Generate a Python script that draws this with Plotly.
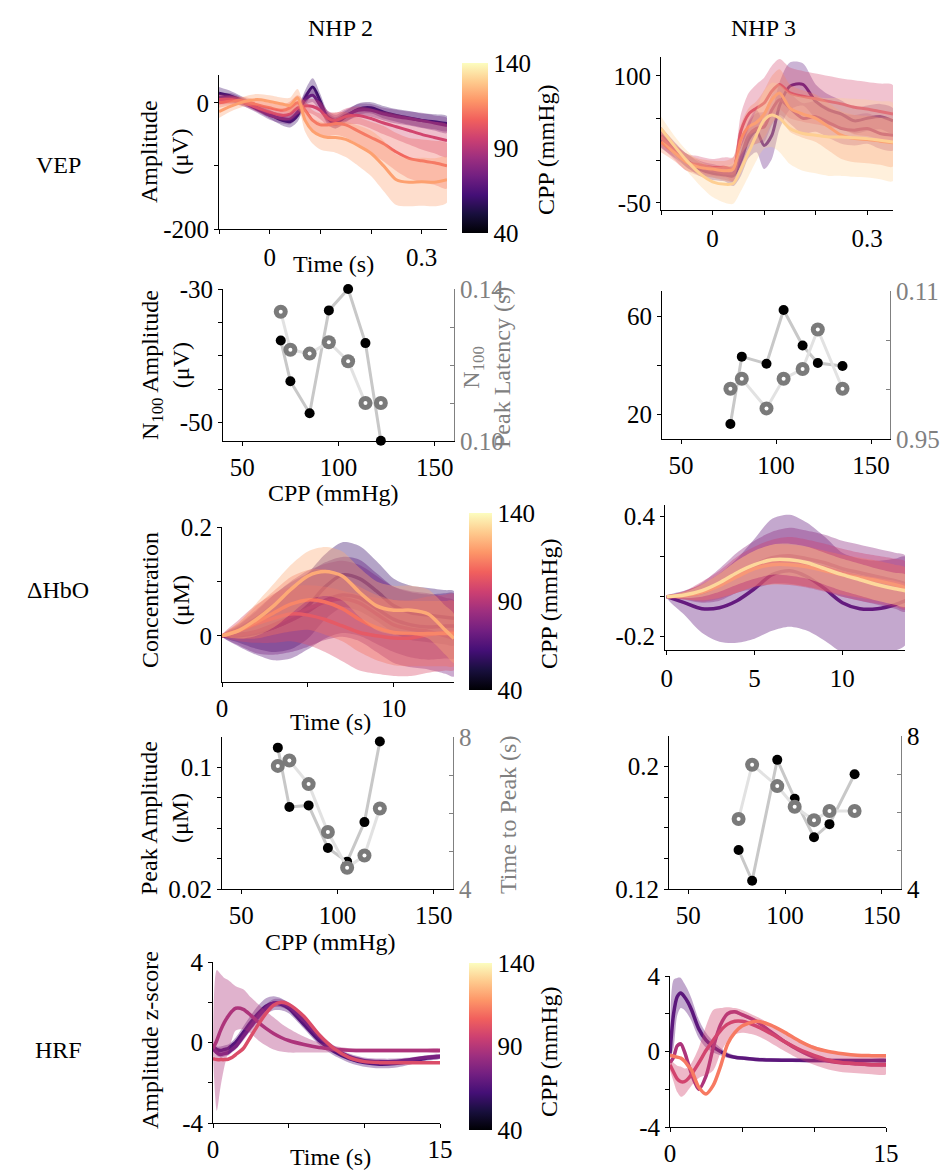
import plotly.graph_objects as go
from plotly.colors import sample_colorscale

W, H = 947, 1172
FONT = "Liberation Serif"
GRAY = "#808080"
TICK = 25
LAB = 24

# ---------------- DATA ----------------
# VEP, NHP 2 (time in s, amplitude in uV)
vep2_t = [-0.1, -0.075, -0.05, -0.025, 0.0, 0.025, 0.04, 0.055, 0.07, 0.085, 0.1, 0.115, 0.13, 0.15, 0.175, 0.2, 0.225, 0.25, 0.275, 0.3, 0.325, 0.35]
vep2_cpp = [60, 71, 97, 108, 120]
vep2_mean = [
    [15, 10, 2, -8, -18, -28, -30, -20, 8, 25, 2, -25, -32, -22, -10, -8, -15, -20, -24, -28, -30, -33],
    [8, 8, 0, -10, -20, -25, -26, -15, 5, 12, -5, -22, -28, -20, -12, -12, -18, -22, -25, -28, -32, -36],
    [5, 5, 0, -8, -15, -20, -18, -8, -5, -6, -12, -25, -28, -22, -20, -25, -32, -38, -44, -50, -55, -60],
    [0, 3, 3, -3, -8, -12, -8, 0, -12, -28, -35, -35, -33, -35, -45, -55, -65, -78, -88, -92, -95, -100],
    [-14, -5, 2, 5, 2, -2, -4, 8, -28, -45, -52, -55, -55, -58, -68, -80, -100, -122, -126, -125, -126, -122],
]
vep2_sem = [
    [10, 8, 6, 6, 7, 8, 9, 10, 12, 14, 12, 10, 9, 9, 9, 9, 10, 10, 11, 11, 12, 12],
    [8, 7, 6, 6, 7, 8, 8, 9, 10, 11, 10, 9, 9, 9, 10, 10, 10, 11, 11, 12, 12, 12],
    [8, 7, 6, 6, 7, 8, 9, 10, 10, 12, 14, 12, 12, 13, 14, 16, 18, 20, 22, 24, 25, 26],
    [8, 7, 6, 7, 8, 9, 10, 12, 14, 16, 18, 18, 18, 20, 22, 25, 28, 30, 32, 34, 35, 36],
    [10, 8, 8, 9, 10, 10, 12, 14, 18, 20, 22, 22, 24, 28, 32, 36, 40, 40, 38, 38, 38, 36],
]

# VEP, NHP 3
vep3_t = vep2_t
vep3_cpp = [68, 80, 97, 115, 130]
vep3_mean = [
    [25, 12, 0, -10, -15, -17, -18, 0, 25, 35, 18, 30, 65, 88, 90, 70, 60, 55, 47, 50, 52, 47],
    [30, 15, 0, -8, -12, -15, -15, 5, 30, 38, 40, 60, 72, 62, 50, 52, 45, 38, 36, 38, 32, 30],
    [28, 12, -2, -5, -8, -8, -10, 35, 55, 62, 68, 82, 90, 80, 76, 73, 70, 67, 63, 61, 58, 55],
    [22, 10, -2, -8, -10, -12, -10, 25, 40, 45, 55, 72, 80, 62, 55, 50, 40, 30, 26, 25, 23, 21],
    [38, 18, 0, -15, -25, -28, -27, -10, 10, 30, 48, 54, 50, 38, 32, 30, 28, 28, 27, 26, 24, 22],
]
vep3_sem = [
    [10, 8, 8, 8, 8, 8, 12, 18, 22, 25, 28, 28, 28, 28, 25, 20, 18, 16, 15, 15, 15, 15],
    [10, 8, 8, 8, 8, 8, 10, 14, 16, 18, 18, 18, 18, 18, 18, 18, 18, 18, 18, 18, 18, 18],
    [12, 10, 10, 10, 10, 12, 14, 20, 25, 28, 30, 30, 30, 30, 30, 30, 30, 30, 32, 32, 33, 34],
    [12, 10, 10, 10, 10, 12, 14, 18, 22, 25, 28, 28, 28, 28, 28, 28, 28, 28, 28, 28, 28, 28],
    [14, 12, 12, 14, 18, 22, 24, 26, 28, 30, 34, 38, 40, 42, 44, 45, 46, 46, 46, 46, 46, 46],
]

# N100 amplitude / latency vs CPP
n100_cpp2 = [70, 75, 85, 95, 105, 114, 122]
n100_amp2 = [-37.7, -43.8, -48.6, -33.2, -30.0, -38.1, -52.7]
n100_lat2 = [0.134, 0.124, 0.123, 0.126, 0.121, 0.110, 0.110]
n100_cpp3 = [76, 82, 95, 104, 114, 122, 135]
n100_amp3 = [16.1, 43.5, 40.6, 62.5, 48.0, 40.9, 39.7]
n100_lat3 = [0.1001, 0.1011, 0.0981, 0.1011, 0.1021, 0.1061, 0.1001]

# dHbO, NHP 2 (time in s, concentration in uM)
hbo2_t = [0, 1, 2, 3, 4, 5, 6, 7, 8, 9, 10, 11, 12, 13, 13.5]
hbo2_cpp = [60, 68, 75, 100, 110, 122]
hbo2_mean = [
    [0, 0.002, 0.006, 0.015, 0.03, 0.055, 0.09, 0.112, 0.105, 0.082, 0.055, 0.042, 0.038, 0.034, 0.032],
    [0, 0.0, 0.005, 0.015, 0.028, 0.045, 0.065, 0.075, 0.07, 0.05, 0.03, 0.02, 0.016, 0.018, 0.018],
    [0, 0.002, 0.008, 0.02, 0.035, 0.05, 0.062, 0.068, 0.06, 0.04, 0.02, 0.012, 0.008, 0.0, -0.005],
    [0, 0.01, 0.022, 0.032, 0.04, 0.038, 0.03, 0.018, 0.006, 0.0, -0.004, -0.004, 0.002, 0.006, 0.007],
    [0, 0.01, 0.025, 0.042, 0.058, 0.066, 0.062, 0.05, 0.03, 0.015, 0.006, 0.004, 0.004, 0.004, 0.004],
    [0, 0.01, 0.03, 0.055, 0.085, 0.11, 0.118, 0.11, 0.08, 0.055, 0.047, 0.047, 0.04, 0.01, -0.005],
]
hbo2_sem = [
    [0, 0.015, 0.03, 0.045, 0.055, 0.06, 0.06, 0.06, 0.06, 0.055, 0.05, 0.05, 0.05, 0.05, 0.05],
    [0, 0.02, 0.04, 0.06, 0.07, 0.07, 0.07, 0.07, 0.07, 0.065, 0.06, 0.06, 0.06, 0.06, 0.06],
    [0, 0.02, 0.04, 0.055, 0.065, 0.07, 0.07, 0.07, 0.07, 0.07, 0.07, 0.07, 0.07, 0.07, 0.07],
    [0, 0.02, 0.035, 0.045, 0.05, 0.055, 0.06, 0.065, 0.07, 0.07, 0.07, 0.07, 0.07, 0.07, 0.07],
    [0, 0.015, 0.03, 0.04, 0.05, 0.055, 0.06, 0.06, 0.06, 0.06, 0.06, 0.06, 0.06, 0.06, 0.06],
    [0, 0.015, 0.03, 0.04, 0.045, 0.045, 0.045, 0.045, 0.045, 0.045, 0.045, 0.045, 0.045, 0.045, 0.045],
]

# dHbO, NHP 3
hbo3_t = [0, 1, 2, 3, 4, 5, 6, 7, 8, 9, 10, 11, 12, 13, 13.6]
hbo3_cpp = [70, 80, 95, 110, 132]
hbo3_mean = [
    [0, -0.03, -0.06, -0.055, -0.02, 0.04, 0.11, 0.13, 0.1, 0.04, -0.03, -0.06, -0.06, -0.04, -0.02],
    [0, 0.005, 0.02, 0.06, 0.12, 0.16, 0.195, 0.205, 0.19, 0.17, 0.14, 0.12, 0.1, 0.08, 0.065],
    [0, 0.008, 0.025, 0.06, 0.11, 0.15, 0.175, 0.178, 0.165, 0.145, 0.12, 0.1, 0.085, 0.07, 0.055],
    [0, 0.006, 0.022, 0.055, 0.1, 0.14, 0.16, 0.16, 0.15, 0.13, 0.11, 0.095, 0.08, 0.06, 0.045],
    [0, 0.008, 0.03, 0.07, 0.12, 0.16, 0.185, 0.185, 0.17, 0.14, 0.11, 0.085, 0.06, 0.04, 0.03],
]
hbo3_sem = [
    [0, 0.06, 0.12, 0.17, 0.21, 0.25, 0.28, 0.28, 0.27, 0.26, 0.25, 0.25, 0.24, 0.23, 0.22],
    [0, 0.02, 0.05, 0.08, 0.1, 0.12, 0.13, 0.14, 0.14, 0.14, 0.14, 0.14, 0.14, 0.14, 0.14],
    [0, 0.02, 0.05, 0.07, 0.09, 0.1, 0.11, 0.12, 0.12, 0.12, 0.12, 0.12, 0.12, 0.12, 0.12],
    [0, 0.02, 0.04, 0.06, 0.08, 0.09, 0.1, 0.1, 0.1, 0.1, 0.1, 0.1, 0.1, 0.1, 0.1],
    [0, 0.015, 0.03, 0.045, 0.06, 0.07, 0.075, 0.08, 0.08, 0.08, 0.08, 0.08, 0.08, 0.08, 0.08],
]

# Peak amplitude / time to peak vs CPP
pk_cpp2 = [69, 75, 85, 95, 105, 114, 122]
pk_amp2 = [0.113, 0.074, 0.075, 0.047, 0.038, 0.064, 0.117]
pk_ttp2 = [7.24, 7.38, 6.76, 5.5, 4.56, 4.88, 6.12]
pk_cpp3 = [76, 83, 96, 105, 115, 123, 136]
pk_amp3 = [0.1455, 0.1254, 0.2044, 0.179, 0.1538, 0.1624, 0.195]
pk_ttp3 = [5.83, 7.25, 6.69, 6.15, 5.80, 6.04, 6.04]

# HRF (z-score)
hrf_t = [0, 0.25, 0.5, 0.75, 1, 1.25, 1.5, 2, 2.5, 3, 3.5, 4, 4.5, 5, 6, 7, 8, 9, 10, 11, 12, 13, 14, 15]
hrf2_cpp = [66, 75, 88, 100]
hrf2_mean = [
    [-0.2, -0.35, -0.4, -0.35, -0.3, -0.15, 0.0, 0.5, 1.0, 1.45, 1.8, 1.95, 1.9, 1.7, 0.9, 0.1, -0.45, -0.8, -1.0, -1.08, -1.05, -0.95, -0.8, -0.7],
    [-0.3, -0.5, -0.6, -0.55, -0.5, -0.35, -0.2, 0.3, 0.8, 1.3, 1.7, 1.95, 1.95, 1.8, 1.1, 0.3, -0.3, -0.7, -0.9, -0.95, -0.95, -0.85, -0.75, -0.7],
    [-0.3, 0.1, 0.6, 1.0, 1.3, 1.55, 1.7, 1.65, 1.35, 1.0, 0.7, 0.45, 0.25, 0.1, -0.1, -0.25, -0.33, -0.38, -0.4, -0.4, -0.4, -0.4, -0.4, -0.4],
    [-0.8, -0.85, -0.85, -0.85, -0.83, -0.75, -0.6, -0.3, 0.3, 0.9, 1.45, 1.85, 2.0, 1.9, 1.3, 0.4, -0.3, -0.75, -0.95, -1.0, -1.0, -1.0, -1.0, -1.0],
]
hrf2_sem = [
    [0.1, 0.15, 0.2, 0.2, 0.2, 0.2, 0.25, 0.3, 0.35, 0.4, 0.4, 0.35, 0.3, 0.25, 0.2, 0.2, 0.2, 0.2, 0.2, 0.2, 0.2, 0.15, 0.12, 0.1],
    [0.1, 0.15, 0.15, 0.15, 0.15, 0.15, 0.15, 0.2, 0.2, 0.2, 0.2, 0.2, 0.2, 0.2, 0.15, 0.15, 0.15, 0.15, 0.15, 0.15, 0.15, 0.1, 0.1, 0.1],
    [0.3, 3.5, 2.8, 2.2, 1.8, 1.4, 1.1, 1.0, 0.9, 0.9, 0.85, 0.8, 0.7, 0.6, 0.4, 0.25, 0.15, 0.1, 0.1, 0.1, 0.1, 0.1, 0.1, 0.1],
    [0.05, 0.05, 0.05, 0.05, 0.05, 0.05, 0.05, 0.05, 0.05, 0.05, 0.05, 0.05, 0.05, 0.05, 0.05, 0.05, 0.05, 0.05, 0.05, 0.05, 0.05, 0.05, 0.05, 0.05],
]
hrf3_cpp = [68, 88, 97, 112]
hrf3_mean = [
    [-0.1, 2.0, 2.9, 3.1, 2.9, 2.6, 2.2, 1.2, 0.6, 0.25, 0.0, -0.2, -0.3, -0.35, -0.42, -0.45, -0.46, -0.47, -0.48, -0.48, -0.48, -0.48, -0.48, -0.48],
    [-0.6, -0.3, 0.3, 0.4, 0.0, -0.6, -1.2, -2.0, -1.3, 0.2, 1.4, 2.0, 2.1, 1.95, 1.6, 1.05, 0.5, 0.05, -0.3, -0.5, -0.6, -0.65, -0.7, -0.7],
    [-0.7, -1.1, -1.45, -1.6, -1.6, -1.45, -1.2, -0.6, 0.05, 0.6, 1.1, 1.45, 1.6, 1.6, 1.35, 0.95, 0.5, 0.1, -0.2, -0.45, -0.6, -0.65, -0.7, -0.7],
    [-0.2, -0.25, -0.3, -0.35, -0.5, -0.75, -1.0, -1.9, -2.25, -1.8, -0.8, 0.4, 1.0, 1.35, 1.6, 1.4, 1.0, 0.55, 0.2, 0.0, -0.12, -0.2, -0.22, -0.23],
]
hrf3_sem = [
    [0.3, 1.8, 1.0, 0.8, 0.7, 0.65, 0.6, 0.5, 0.4, 0.3, 0.2, 0.15, 0.1, 0.1, 0.1, 0.1, 0.1, 0.1, 0.1, 0.1, 0.1, 0.1, 0.1, 0.1],
    [0.1, 0.1, 0.1, 0.1, 0.1, 0.1, 0.1, 0.1, 0.1, 0.1, 0.1, 0.1, 0.1, 0.1, 0.1, 0.1, 0.1, 0.1, 0.1, 0.1, 0.1, 0.1, 0.1, 0.1],
    [0.3, 0.5, 0.7, 0.8, 0.7, 0.6, 0.6, 0.8, 1.3, 1.6, 1.2, 0.9, 0.7, 0.6, 0.5, 0.5, 0.5, 0.5, 0.5, 0.5, 0.5, 0.5, 0.5, 0.5],
    [0.05, 0.05, 0.05, 0.05, 0.05, 0.05, 0.05, 0.05, 0.05, 0.05, 0.05, 0.05, 0.05, 0.05, 0.05, 0.05, 0.05, 0.05, 0.05, 0.05, 0.05, 0.05, 0.05, 0.05],
]

CPP_MIN, CPP_MAX = 40, 140
cbar_ticks = [40, 90, 140]

# ---------------- HELPERS ----------------
def cpp_rgb(c):
    s = sample_colorscale("Magma", [(c - CPP_MIN) / (CPP_MAX - CPP_MIN)])[0]
    vals = s[s.index("(") + 1:s.index(")")].split(",")
    return tuple(int(round(float(v))) for v in vals[:3])

def rgba(rgb, a):
    return "rgba(%d,%d,%d,%.3f)" % (rgb[0], rgb[1], rgb[2], a)

def sid(i):
    return "" if i == 1 else str(i)

fig = go.Figure()
layout = {}

AX = dict(showline=True, linecolor="black", linewidth=1, ticks="outside", ticklen=4,
          tickcolor="black", tickwidth=1, showgrid=False, zeroline=False, automargin=False,
          tickfont=dict(family=FONT, size=TICK, color="black"), fixedrange=True)

def minor(vals, color="black", side="outside"):
    return dict(tickvals=vals, ticks=side, ticklen=4, tickcolor=color, tickwidth=1, showgrid=False)

def panel(i, box, xr, yr, xt, yt, xstand=0):
    l, r, t, b = box
    layout["xaxis" + sid(i)] = dict(AX, domain=[l / W, r / W], range=xr, anchor="y" + sid(i),
                                    tickvals=xt[0], ticktext=[str(v) for v in xt[1]],
                                    minor=minor(xt[2]), ticklabelstandoff=xstand)
    layout["yaxis" + sid(i)] = dict(AX, domain=[1 - b / H, 1 - t / H], range=yr, anchor="x" + sid(i),
                                    tickvals=yt[0], ticktext=yt[1], minor=minor(yt[2]))

def right_axis(j, i, yr, yt, labcolor):
    layout["yaxis" + sid(j)] = dict(AX, overlaying="y" + sid(i), side="right", anchor="x" + sid(i),
                                    range=yr, tickvals=yt[0], ticktext=yt[1], linecolor=GRAY,
                                    tickcolor=GRAY, ticks="inside", minor=minor(yt[2], GRAY, "inside"),
                                    tickfont=dict(family=FONT, size=TICK, color=labcolor))

def curves(i, t, cpps, means, sems, alpha, width):
    for c, m, s in zip(cpps, means, sems):
        rgb = cpp_rgb(c)
        up = [a + e for a, e in zip(m, s)]
        lo = [a - e for a, e in zip(m, s)]
        fig.add_trace(go.Scatter(x=list(t) + list(t)[::-1], y=up + lo[::-1], fill="toself",
                                 fillcolor=rgba(rgb, alpha), mode="lines",
                                 line=dict(width=0, shape="spline", smoothing=0.8),
                                 xaxis="x" + sid(i), yaxis="y" + sid(i), hoverinfo="skip"))
        fig.add_trace(go.Scatter(x=t, y=m, mode="lines",
                                 line=dict(color=rgba(rgb, 1), width=width, shape="spline", smoothing=0.8),
                                 xaxis="x" + sid(i), yaxis="y" + sid(i), hoverinfo="skip"))

def scatter_pair(i, j, cpp, amp, cpp_b, second):
    xa, ya, yb = "x" + sid(i), "y" + sid(i), "y" + sid(j)
    fig.add_trace(go.Scatter(x=cpp_b, y=second, mode="lines", line=dict(color="#e2e2e2", width=3),
                             xaxis=xa, yaxis=yb, hoverinfo="skip"))
    fig.add_trace(go.Scatter(x=cpp, y=amp, mode="lines", line=dict(color="#c8c8c8", width=3),
                             xaxis=xa, yaxis=ya, hoverinfo="skip"))
    fig.add_trace(go.Scatter(x=cpp, y=amp, mode="markers", marker=dict(color="black", size=10),
                             cliponaxis=False, xaxis=xa, yaxis=ya, hoverinfo="skip"))
    fig.add_trace(go.Scatter(x=cpp_b, y=second, mode="markers", marker=dict(color="#7a7a7a", size=14),
                             cliponaxis=False, xaxis=xa, yaxis=yb, hoverinfo="skip"))
    fig.add_trace(go.Scatter(x=cpp_b, y=second, mode="markers", marker=dict(color="white", size=4),
                             cliponaxis=False, xaxis=xa, yaxis=yb, hoverinfo="skip"))

def colorbar(i, box):
    l, r, t, b = box
    fig.add_trace(go.Scatter(x=[None], y=[None], mode="markers", xaxis="x" + sid(i), yaxis="y" + sid(i),
                             marker=dict(color=[CPP_MIN], cmin=CPP_MIN, cmax=CPP_MAX, colorscale="Magma",
                                         showscale=True,
                                         colorbar=dict(x=l / W, xanchor="left", y=1 - t / H, yanchor="top",
                                                       len=(b - t) / H, lenmode="fraction",
                                                       thickness=r - l, thicknessmode="pixels",
                                                       outlinewidth=0, ticks="", xpad=0, ypad=0,
                                                       tickvals=cbar_ticks, ticktext=[str(v) for v in cbar_ticks],
                                                       ticklabelposition="outside",
                                                       tickfont=dict(family=FONT, size=TICK, color="black"))),
                             hoverinfo="skip"))

# ---------------- PANELS ----------------
# (labelled tick values, their labels, unlabelled minor ticks)
vep_xt = ([0, 0.3], ["0", "0.3"], [-0.1, 0.1, 0.2])
cpp_xt = ([50, 100, 150], ["50", "100", "150"], [])
hrf_xt = ([0, 15], ["0", "15"], [5, 10])
hrf_yt = ([-4, 0, 4], ["-4", "0", "4"], [-2, 2])

panel(1, (219, 447, 75, 229), [-0.1, 0.35], [-200, 44], vep_xt, ([-200, 0], ["-200", "0"], [-100]), xstand=2)
panel(2, (661, 893, 57, 210), [-0.1, 0.35], [-58.3, 122.4], vep_xt, ([-50, 100], ["-50", "100"], [0, 50]), xstand=2)
panel(3, (223, 454, 289, 441), [40, 160], [-52.75, -30], cpp_xt, ([-50, -30], ["-50", "-30"], [-45, -40, -35]))
panel(4, (662, 890, 291, 439), [40, 160], [10, 70.2], cpp_xt, ([20, 60], ["20", "60"], [40]))
panel(5, (222, 454, 527, 682), [0, 13.5], [-0.085, 0.2], ([0, 10], ["0", "10"], [5]), ([0, 0.2], ["0", "0.2"], [0.1]))
panel(6, (665, 905, 505, 650), [-0.1, 13.57], [-0.2665, 0.4585], ([0, 5, 10], ["0", "5", "10"], []),
      ([-0.2, 0.4], ["-0.2", "0.4"], [0, 0.2]), xstand=2)
panel(7, (222, 453, 737, 889), [40, 160], [0.02, 0.12], cpp_xt, ([0.02, 0.1], ["0.02", "0.1"], [0.04, 0.06, 0.08]))
panel(8, (669, 901, 736, 889), [40, 160], [0.12, 0.22], cpp_xt, ([0.12, 0.2], ["0.12", "0.2"], [0.14, 0.16, 0.18]))
panel(9, (213, 440, 962, 1123), [0, 15], [-4, 4], hrf_xt, hrf_yt)
panel(10, (670, 886, 976, 1127), [0, 15], [-4, 4], hrf_xt, hrf_yt)

right_axis(11, 3, [0.10, 0.14], ([0.10, 0.14], ["0.10", "0.14"], [0.11, 0.12, 0.13]), GRAY)
right_axis(12, 4, [0.095, 0.11], ([0.095, 0.11], ["0.95", "0.11"], [0.1, 0.105]), GRAY)
right_axis(13, 7, [4, 8], ([4, 8], ["4", "8"], [5, 6, 7]), GRAY)
right_axis(14, 8, [4, 8], ([4, 8], ["4", "8"], [5, 6, 7]), "black")

curves(1, vep2_t, vep2_cpp, vep2_mean, vep2_sem, 0.35, 3)
curves(2, vep3_t, vep3_cpp, vep3_mean, vep3_sem, 0.32, 3)
scatter_pair(3, 11, n100_cpp2, n100_amp2, n100_cpp2, n100_lat2)
scatter_pair(4, 12, n100_cpp3, n100_amp3, n100_cpp3, n100_lat3)
curves(5, hbo2_t, hbo2_cpp, hbo2_mean, hbo2_sem, 0.38, 3.5)
curves(6, hbo3_t, hbo3_cpp, hbo3_mean, hbo3_sem, 0.38, 3.5)
scatter_pair(7, 13, pk_cpp2, pk_amp2, pk_cpp2, pk_ttp2)
scatter_pair(8, 14, pk_cpp3, pk_amp3, pk_cpp3, pk_ttp3)
curves(9, hrf_t, hrf2_cpp, hrf2_mean, hrf2_sem, 0.38, 3.5)
curves(10, hrf_t, hrf3_cpp, hrf3_mean, hrf3_sem, 0.38, 3.5)

colorbar(1, (462, 488, 63, 233))
colorbar(5, (469, 492, 513, 690))
colorbar(9, (469, 492, 963, 1130))

# ---------------- TEXT ----------------
def ann(text, x, y, angle=0, color="black", size=LAB):
    return dict(text=text, x=x / W, y=1 - y / H, xref="paper", yref="paper", showarrow=False,
                xanchor="center", yanchor="middle", textangle=angle,
                font=dict(family=FONT, size=size, color=color))

annotations = [
    ann("NHP 2", 340, 28), ann("NHP 3", 763, 28),
    ann("VEP", 58, 165), ann("ΔHbO", 58, 590), ann("HRF", 58, 1050),
    ann("Amplitude<br>(μV)", 165, 152, -90),
    ann("Time (s)", 333, 264),
    ann("CPP (mmHg)", 546, 150, -90),
    ann("N<sub>100</sub> Amplitude<br>(μV)", 165, 365, -90),
    ann("N<sub>100</sub><br>Peak Latency (s)", 486, 368, -90, GRAY),
    ann("CPP (mmHg)", 333, 493),
    ann("Concentration<br>(μM)", 165, 600, -90),
    ann("Time (s)", 330, 722),
    ann("CPP (mmHg)", 549, 604, -90),
    ann("Peak Amplitude<br>(μM)", 165, 818, -90),
    ann("Time to Peak (s)", 508, 815, -90, GRAY),
    ann("CPP (mmHg)", 330, 942),
    ann("Amplitude z-score", 150, 1040, -90),
    ann("Time (s)", 330, 1157),
    ann("CPP (mmHg)", 549, 1052, -90),
]

fig.update_layout(**layout)
fig.update_layout(width=W, height=H, margin=dict(l=0, r=0, t=0, b=0, pad=0, autoexpand=False), autosize=False,
                  paper_bgcolor="white", plot_bgcolor="white", showlegend=False,
                  font=dict(family=FONT, size=TICK, color="black"), annotations=annotations)

fig.write_html("out.html", config={"displayModeBar": False},
               post_script="document.body.style.margin='0';document.body.style.overflow='hidden';")
